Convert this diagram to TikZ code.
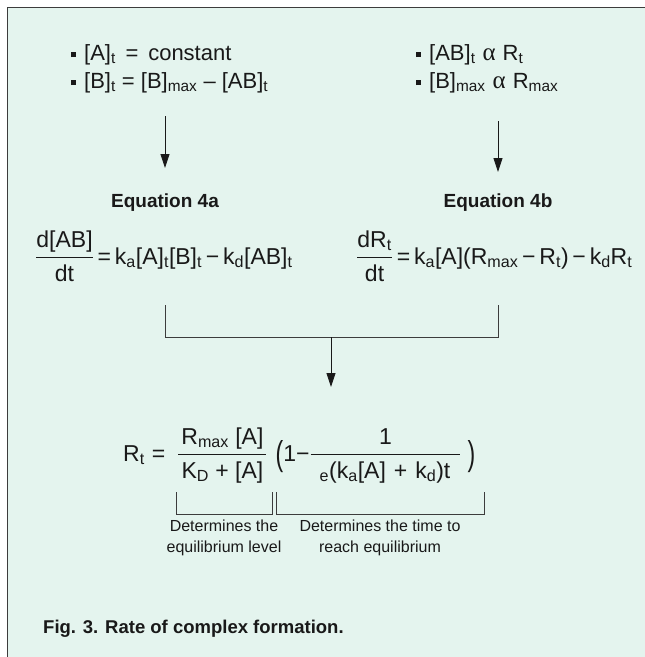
\documentclass[tikz,border=0pt]{standalone}
\usepackage{fontspec}
\usepackage{amsmath}
\usepackage{graphicx}
\setmainfont{Liberation Sans}
\newfontfamily\grkfont{Liberation Serif}
\usetikzlibrary{arrows.meta}
\definecolor{mint}{RGB}{228,244,238}
\definecolor{ink}{RGB}{25,25,25}
\definecolor{linec}{RGB}{60,60,60}
\newcommand{\sbt}[1]{\textsubscript{#1}}
\newcommand{\bul}{\rule[3pt]{5pt}{5pt}\hspace{8pt}}
\newcommand{\prp}{\hspace{7pt}{\grkfont\fontsize{25}{25}\selectfont α}\hspace{7pt}}
\newcommand{\bigparen}[1]{\raisebox{-4pt}{\scalebox{1}[1.5]{#1}}}
\tikzset{
  fs/.style={font=\fontsize{#1}{#1}\selectfont},
  txt/.style={inner sep=0pt, text=ink},
  arr/.style={draw=ink, line width=0.9pt, -{Triangle[length=14pt,width=9pt]}},
  conn/.style={draw=linec, line width=0.8pt},
}
\begin{document}
\begin{tikzpicture}[x=1pt,y=-1pt]
\useasboundingbox (0,0) rectangle (645,657);
\fill[white] (0,0) rectangle (645,657);
\fill[mint] (7.5,7.5) rectangle (645,657);
\draw[linec, line width=1.5pt] (7.5,657) -- (7.5,7.5) -- (645,7.5);

% bullet lists
\node[txt, fs=22, anchor=base west] (l1) at (71,60) {\bul[A]\sbt{t} \,=\, constant};
\node[txt, fs=22, anchor=base west] (l2) at (71,88) {\bul[B]\sbt{t} = [B]\sbt{max} – [AB]\sbt{t}};
\node[txt, fs=22, anchor=base west] (r1) at (416,60) {\bul[AB]\sbt{t}\prp R\sbt{t}};
\node[txt, fs=22, anchor=base west] (r2) at (416,88) {\bul[B]\sbt{max}\prp R\sbt{max}};

% arrows to equation labels
\coordinate (a1s) at (165,116);
\coordinate (a1e) at (165,168);
\coordinate (a2s) at (498,121);
\coordinate (a2e) at (498,172);
\draw[arr] (a1s) -- (a1e);
\draw[arr] (a2s) -- (a2e);

% equation labels
\node[txt, font=\bfseries\fontsize{19}{19}\selectfont] (ela) at (165,203) {Equation 4a};
\node[txt, font=\bfseries\fontsize{19}{19}\selectfont] (elb) at (498,203) {Equation 4b};

% equations
\node[txt, fs=23, anchor=base west] (eqa) at (35,264)
  {$\dfrac{\text{d[AB]}}{\text{dt}}\text{\,=\,k\sbt{a}[A]\sbt{t}[B]\sbt{t}\,−\,k\sbt{d}[AB]\sbt{t}}$};
\node[txt, fs=23, anchor=base west] (eqb) at (356,264)
  {$\dfrac{\text{dR\sbt{t}}}{\text{dt}}\text{\,=\,k\sbt{a}[A](R\sbt{max}\,−\,R\sbt{t})\,−\,k\sbt{d}R\sbt{t}}$};

% merging connectors
\coordinate (ma) at (165,305);
\coordinate (mb) at (498,305);
\coordinate (mac) at (165,337);
\coordinate (mbc) at (498,337);
\coordinate (mm) at (331,337);
\coordinate (me) at (331,387);
\draw[conn] (ma) -- (mac) -- (mbc) -- (mb);
\draw[arr] (mm) -- (me);

% final equation
\node[txt, fs=23, anchor=base west] (eqf) at (123,461)
  {$\text{R\sbt{t}\hspace{7pt}=\hspace{12pt}}\dfrac{\text{\hspace{3pt}R\sbt{max} [A]\hspace{3pt}}}{\text{\hspace{3pt}K\sbt{D} + [A]\hspace{3pt}}}\text{\hspace{8pt}\bigparen{(}1−}\dfrac{\text{1}}{\text{\hspace{9pt}\sbt{e}(k\sbt{a}[A]\hspace{8pt}+\hspace{8pt}k\sbt{d})t\hspace{10pt}}}\text{\hspace{6pt}\bigparen{)}}$};

% brackets
\coordinate (b1a) at (176,492);
\coordinate (b1b) at (176,514);
\coordinate (b1c) at (272,514);
\coordinate (b1d) at (272,492);
\coordinate (b2a) at (276,492);
\coordinate (b2b) at (276,514);
\coordinate (b2c) at (484,514);
\coordinate (b2d) at (484,492);
\draw[conn] (b1a) -- (b1b) -- (b1c) -- (b1d);
\draw[conn] (b2a) -- (b2b) -- (b2c) -- (b2d);

\node[txt, font=\fontsize{16}{21}\selectfont, align=center, anchor=north] (lab1) at (224,520)
  {Determines the\\equilibrium level};
\node[txt, font=\fontsize{16}{21}\selectfont, align=center, anchor=north] (lab2) at (380,520)
  {Determines the time to\\reach equilibrium};

% caption
\node[txt, font=\bfseries\fontsize{18.5}{18.5}\selectfont, anchor=base west] (cap) at (43,633)
  {Fig. 3. Rate of complex formation.};
\end{tikzpicture}
\end{document}
